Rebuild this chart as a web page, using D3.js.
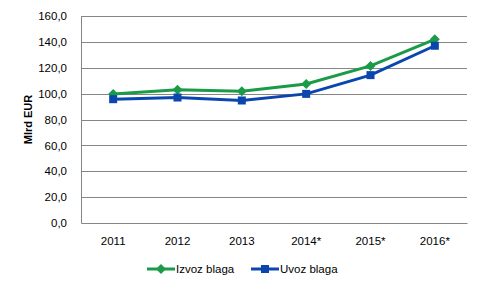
<!DOCTYPE html>
<html>
<head>
<meta charset="utf-8">
<script src="https://cdn.jsdelivr.net/npm/d3@7"></script>
<style>
  body { margin: 0; background: #fff; }
  text { font-family: "Liberation Sans", Arial, sans-serif; fill: #000; }
</style>
</head>
<body>
<div id="chart"></div>
<script>
// data
var years = ["2011", "2012", "2013", "2014*", "2015*", "2016*"];
var izvoz = [99.8, 102.9, 101.9, 107.5, 121.4, 142.0];
var uvoz = [95.7, 97.0, 94.7, 99.8, 114.3, 137.0];
var yTicks = [0, 20, 40, 60, 80, 100, 120, 140, 160];

var series = [
    { name: "Izvoz blaga", values: izvoz, color: "#1a9b48", marker: "diamond" },
    { name: "Uvoz blaga", values: uvoz, color: "#0b46ae", marker: "square" }
];

var W = 482, H = 290;
var margin = { top: 16, left: 81, right: 15, bottom: 67 };
var width = W - margin.left - margin.right;
var height = H - margin.top - margin.bottom;

var svg = d3.select("#chart").append("svg")
    .attr("width", W).attr("height", H);

var g = svg.append("g")
    .attr("transform", "translate(" + margin.left + "," + margin.top + ")");

var x = d3.scaleBand().domain(years).range([0, width]);
var y = d3.scaleLinear().domain([0, 160]).range([height, 0]);

var fmt = function(d) { return d3.format(".1f")(d).replace(".", ","); };

// gridlines
g.selectAll(".grid").data(yTicks.slice(1)).enter()
    .append("line")
    .attr("x1", 0).attr("x2", width)
    .attr("y1", d => Math.round(y(d)) + 0.5).attr("y2", d => Math.round(y(d)) + 0.5)
    .attr("stroke", "#868686").attr("stroke-width", 1);

// y axis
var yAxis = g.append("g").call(d3.axisLeft(y).tickValues(yTicks).tickFormat(fmt).tickSize(0).tickPadding(14));
yAxis.select(".domain").attr("stroke", "#868686");
yAxis.selectAll("text").style("font-size", "11.5px").attr("fill", "#000");

// x axis
var xAxis = g.append("g").attr("transform", "translate(0," + height + ")")
    .call(d3.axisBottom(x).tickSize(0).tickPadding(14));
xAxis.select(".domain").attr("stroke", "#868686");
xAxis.selectAll("text").style("font-size", "11.5px").attr("fill", "#000");

// y title
svg.append("text")
    .attr("transform", "translate(32," + (margin.top + y(80)) + ") rotate(-90)")
    .attr("text-anchor", "middle")
    .style("font-size", "11px").style("font-weight", "bold")
    .text("Mlrd EUR");

var line = d3.line()
    .x((d, i) => x(years[i]) + x.bandwidth() / 2)
    .y(d => y(d));

function drawMarker(sel, type, color) {
    if (type === "diamond") {
        sel.append("path").attr("d", "M0,-5L5,0L0,5L-5,0Z").attr("fill", color);
    } else {
        sel.append("rect").attr("x", -4).attr("y", -4).attr("width", 8).attr("height", 8).attr("fill", color);
    }
}

series.forEach(function(s) {
    g.append("path").datum(s.values)
        .attr("d", line)
        .attr("fill", "none")
        .attr("stroke", s.color)
        .attr("stroke-width", 3);
    g.selectAll(".m-" + s.marker).data(s.values).enter()
        .append("g")
        .attr("transform", (d, i) => "translate(" + (x(years[i]) + x.bandwidth() / 2) + "," + y(d) + ")")
        .each(function() { drawMarker(d3.select(this), s.marker, s.color); });
});

// legend
var legendX = [147, 251];
series.forEach(function(s, i) {
    var lg = svg.append("g").attr("transform", "translate(" + legendX[i] + ",269)");
    lg.append("line").attr("x1", 0).attr("x2", 28).attr("y1", 0).attr("y2", 0)
        .attr("stroke", s.color).attr("stroke-width", 3);
    var m = lg.append("g").attr("transform", "translate(14,0)");
    drawMarker(m, s.marker, s.color);
    lg.append("text").attr("x", 29).attr("y", 4)
        .style("font-size", "11.5px").text(s.name);
});
</script>
</body>
</html>
